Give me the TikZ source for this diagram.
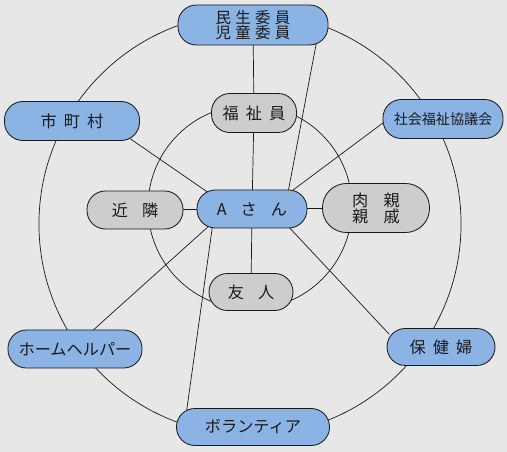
\documentclass[tikz,border=0pt]{standalone}
\usepackage{fontspec}
\setmainfont{Noto Sans CJK JP}
\usetikzlibrary{backgrounds}
\definecolor{paper}{HTML}{E7E7E7}
\definecolor{formal}{HTML}{8BB3E3}
\definecolor{informal}{HTML}{CDCDCD}
\definecolor{ink}{HTML}{1A1A1A}

\begin{document}
\begin{tikzpicture}[x=0.025cm,y=-0.025cm,
  link/.style={ink,line width=0.5pt,shorten <=-3pt,shorten >=-3pt},
  ring/.style={ink,line width=0.5pt},
  pill/.style={draw=ink,line width=0.6pt,rounded corners=0.46cm,inner sep=0pt,
    text=ink,align=center,font=\fontsize{11.5}{11.5}\selectfont},
  formal/.style={pill,fill=formal},
  informal/.style={pill,fill=informal}]
  \useasboundingbox (0,0) rectangle (507,452);
  \begin{scope}[on background layer]
    \fill[paper] (0,0) rectangle (507,452);
  \end{scope}

  % Circles
  \draw[ring] (250,224) circle[radius=5.275cm];
  \draw[ring] (250,207) circle[radius=2.55cm];

  % Outer ring
  \node[formal,minimum width=3.75cm,minimum height=1cm,font=\fontsize{11}{10.3}\selectfont] (minsei) at (253,25)
    {民\hspace{3pt}生\hspace{3pt}委\hspace{3pt}員\\児\hspace{3pt}童\hspace{3pt}委\hspace{3pt}員};
  \node[formal,minimum width=3.375cm,minimum height=0.975cm] (shichoson) at (72,121)
    {市\hspace{5pt}町\hspace{5pt}村};
  \node[formal,minimum width=3cm,minimum height=0.975cm,font=\fontsize{10}{10}\selectfont] (shakyo) at (443,119)
    {社会福祉協議会};
  \node[formal,minimum width=3.35cm,minimum height=0.95cm] (helper) at (75,349)
    {ホームヘルパー};
  \node[formal,minimum width=2.7cm,minimum height=0.925cm] (hokenfu) at (441,347)
    {保\hspace{5pt}健\hspace{5pt}婦};
  \node[formal,minimum width=3.825cm,minimum height=0.925cm] (volunteer) at (253,427)
    {ボランティア};

  % Inner ring
  \node[informal,minimum width=2.125cm,minimum height=0.975cm] (fukushiin) at (254,113)
    {福\hspace{5pt}祉\hspace{5pt}員};
  \node[informal,minimum width=2.4cm,minimum height=0.95cm] (kinrin) at (135,210)
    {近\hspace{10pt}隣};
  \node[informal,minimum width=2.675cm,minimum height=1.225cm,rounded corners=0.6cm,
    font=\fontsize{11.5}{11.5}\selectfont] (nikushin) at (376,208)
    {肉\hspace{11pt}親\\親\hspace{11pt}戚};
  \node[informal,minimum width=2.1cm,minimum height=0.925cm] (yujin) at (251,292)
    {友\hspace{10pt}人};

  % Center
  \node[formal,minimum width=2.75cm,minimum height=0.95cm] (asan) at (252,209)
    {A\hspace{10pt}さ\hspace{10pt}ん};

  % Links
  \begin{scope}[on background layer]
    \draw[link] (fukushiin) -- (minsei);
    \draw[link] (fukushiin) -- (asan);
    \draw[link] (minsei.-18) -- (asan.28);
    \draw[link] (shichoson.-18) -- (asan.158);
    \draw[link] (shakyo.184) -- (asan.25);
    \draw[link] (kinrin) -- (asan);
    \draw[link] (asan) -- (nikushin);
    \draw[link] (asan) -- (yujin);
    \draw[link] (asan.203) -- (helper.46);
    \draw[link] (asan.206) -- (volunteer.164);
    \draw[link] (asan.-27) -- (hokenfu.164);
  \end{scope}
\end{tikzpicture}
\end{document}
